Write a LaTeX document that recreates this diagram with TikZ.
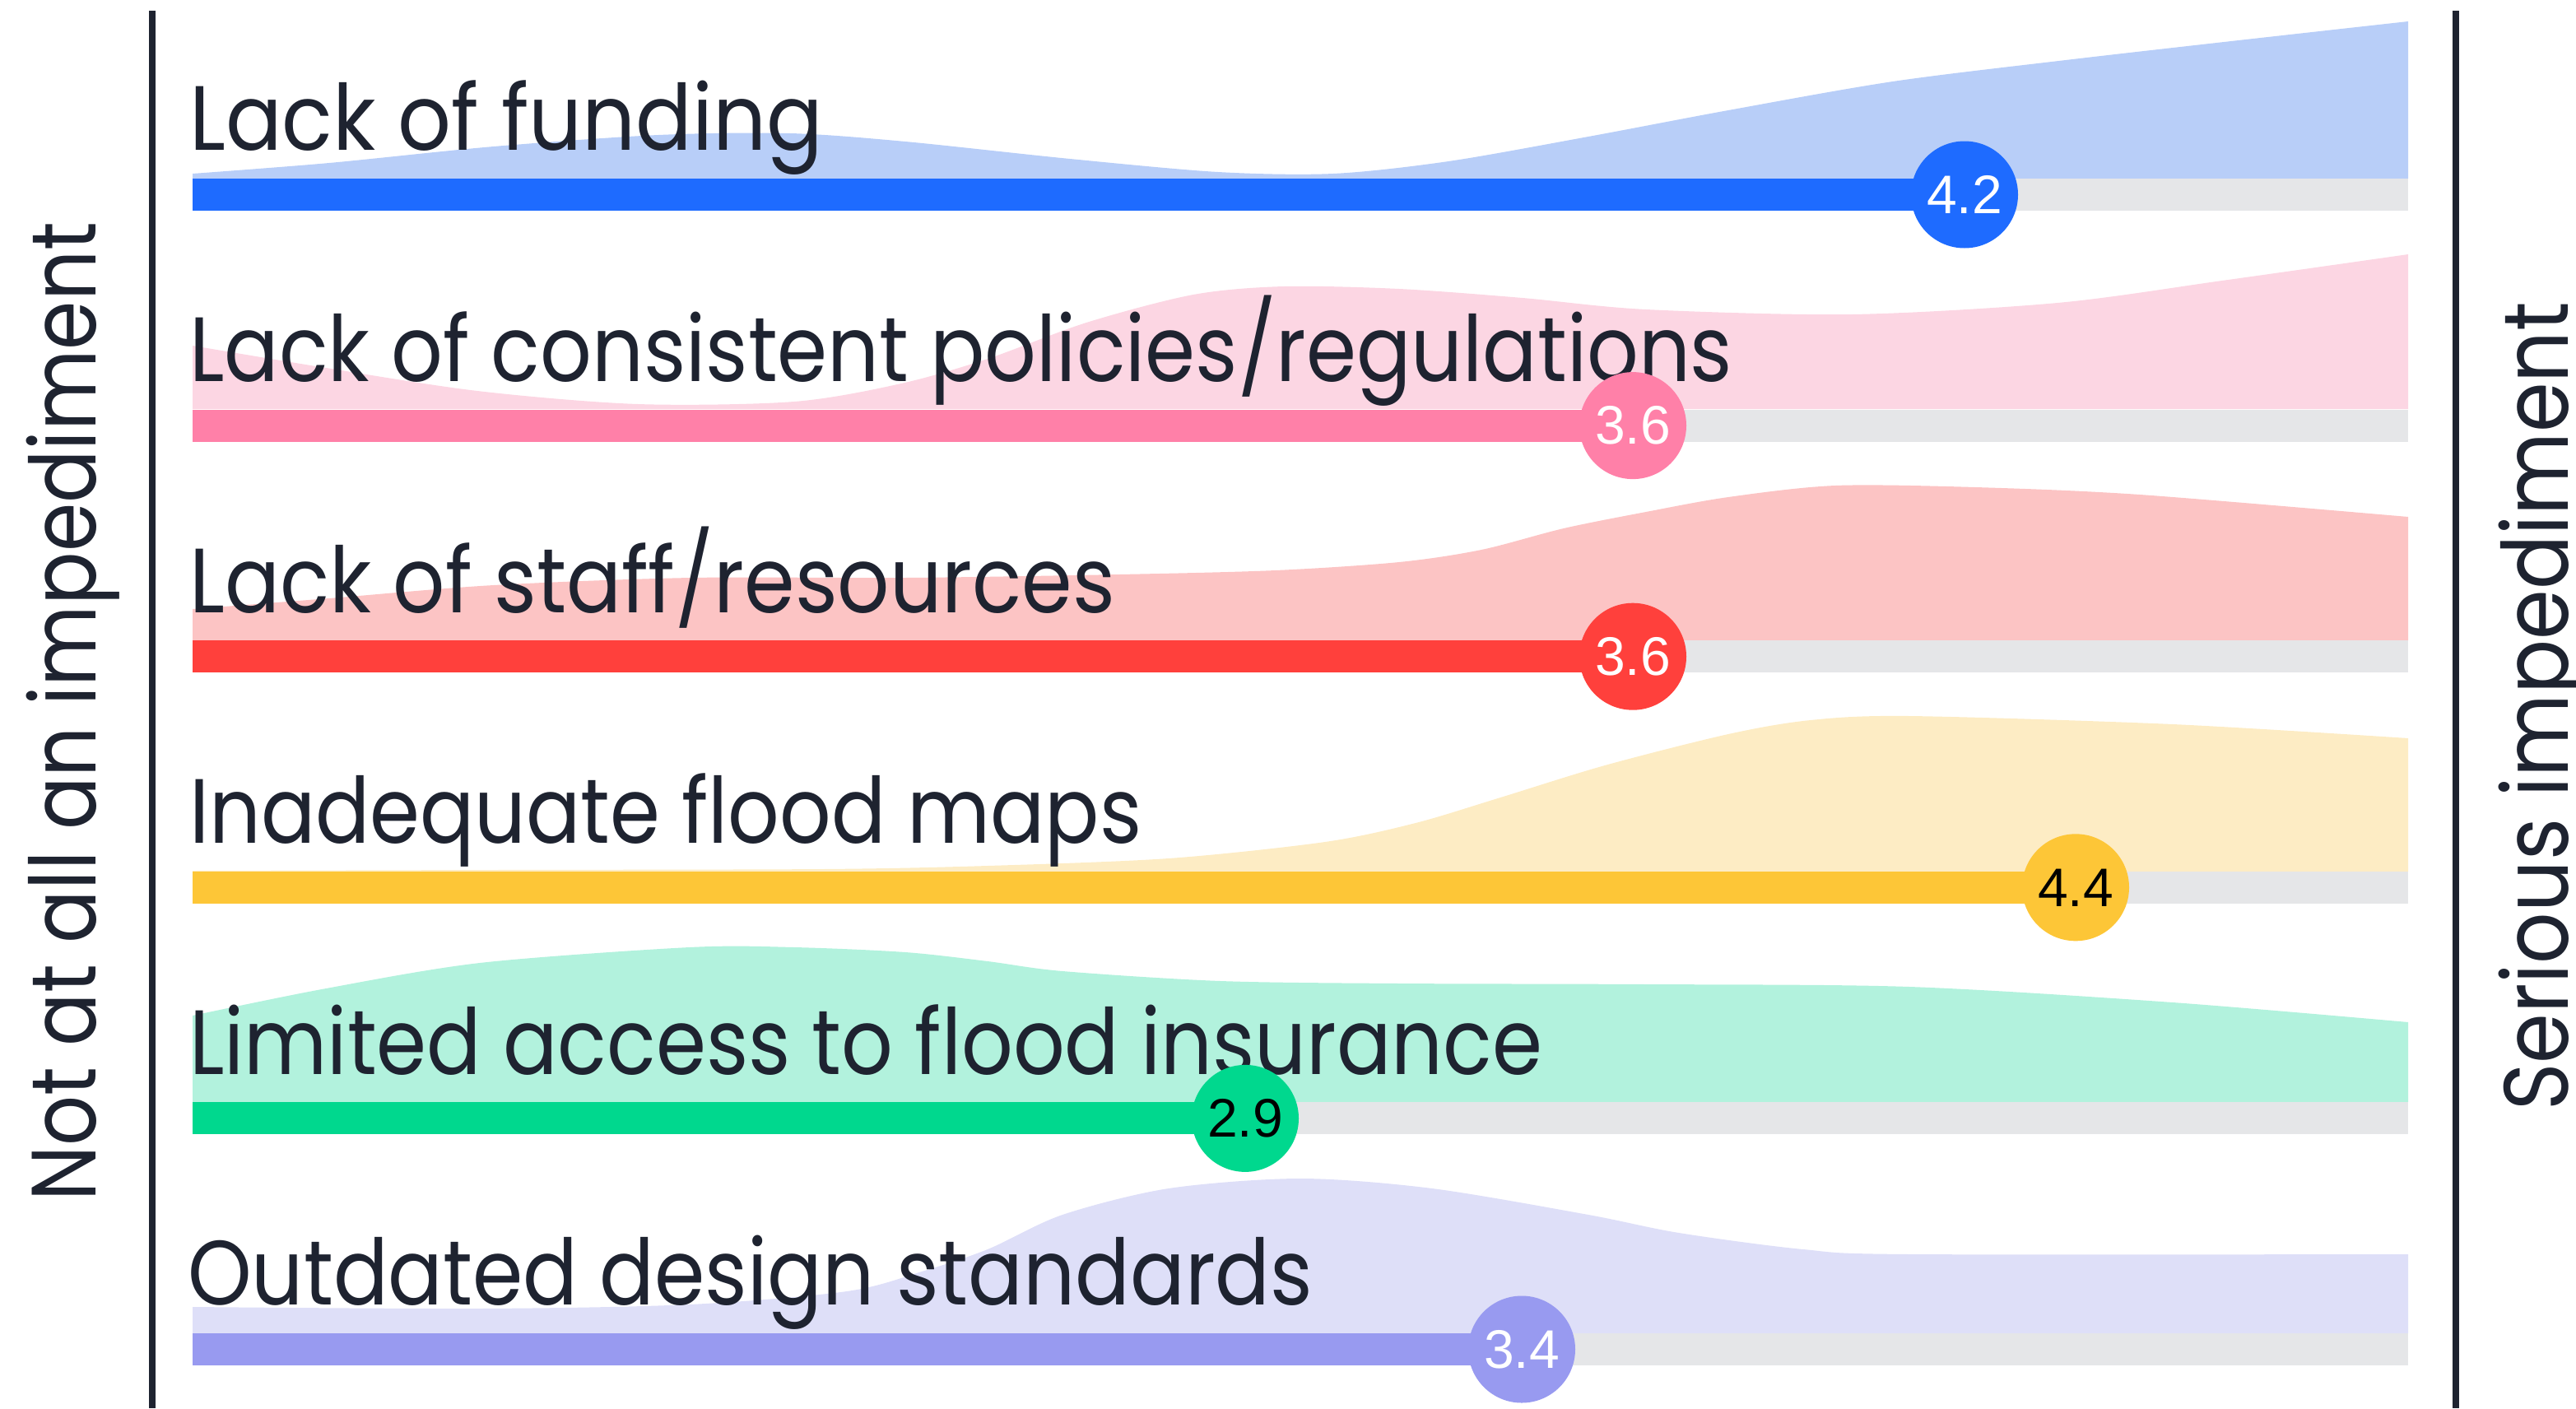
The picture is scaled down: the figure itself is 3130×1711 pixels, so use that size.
\documentclass[tikz,border=0pt]{standalone}
\usepackage{fontspec}
\usepackage{graphicx}
\setmainfont{Poppins}
\newfontfamily\valfont{Liberation Sans}
\definecolor{ink}{RGB}{30,35,48}
\definecolor{trackc}{RGB}{229,230,232}
\definecolor{cA}{RGB}{30,107,255}
\definecolor{lA}{RGB}{184,206,248}
\definecolor{cB}{RGB}{255,128,168}
\definecolor{lB}{RGB}{252,214,227}
\definecolor{cC}{RGB}{255,64,60}
\definecolor{lC}{RGB}{252,196,196}
\definecolor{cD}{RGB}{253,198,55}
\definecolor{lD}{RGB}{253,236,196}
\definecolor{cE}{RGB}{0,216,142}
\definecolor{lE}{RGB}{178,242,221}
\definecolor{cF}{RGB}{152,154,240}
\definecolor{lF}{RGB}{222,223,248}
\tikzset{
  lbl/.style={anchor=base west, inner sep=0pt, text=ink, font=\fontsize{111}{120}\selectfont},
  sidelbl/.style={anchor=base west, inner sep=0pt, text=ink, rotate=90, font=\fontsize{111}{120}\selectfont},
  val/.style={circle, minimum size=130pt, inner sep=0pt, font=\valfont\fontsize{66}{66}\selectfont},
  axisline/.style={draw=ink, line width=8pt},
  bar/.style={line width=39pt},
}
\begin{document}
\begin{tikzpicture}[x=1pt,y=-1pt]
\useasboundingbox (0,0) rectangle (3130,1711);
% ridges
\fill[lA] (234,217) -- plot[smooth] coordinates {(234,211) (400,198) (600,178) (800,164) (960,162) (1100,172) (1300,193) (1480,209) (1620,211) (1760,196) (1930,166) (2100,134) (2300,99) (2510,73) (2720,49) (2926,26)} -- (2926,217) -- cycle;
\fill[lB] (234,497) -- plot[smooth] coordinates {(234,420) (390,446) (580,475) (775,491) (965,488) (1095,466) (1200,436) (1320,392) (1450,358) (1560,348) (1700,351) (1850,362) (2000,376) (2250,382) (2500,368) (2700,341) (2926,309)} -- (2926,497) -- cycle;
\fill[lC] (234,778) -- plot[smooth] coordinates {(234,740) (400,727) (600,711) (840,702) (1100,702) (1360,698) (1550,693) (1700,683) (1800,668) (1900,642) (2000,622) (2100,604) (2230,590) (2400,592) (2600,601) (2926,628)} -- (2926,778) -- cycle;
\fill[lD] (234,1059) -- plot[smooth] coordinates {(234,1058) (600,1057) (1000,1056) (1200,1052) (1420,1043) (1610,1023) (1720,1000) (1820,970) (1950,930) (2100,892) (2200,875) (2320,870) (2640,880) (2926,897)} -- (2926,1059) -- cycle;
\fill[lE] (234,1339) -- plot[smooth] coordinates {(234,1234) (391,1202) (583,1170) (838,1151) (965,1151) (1100,1157) (1200,1168) (1291,1180) (1483,1192) (1700,1195) (2000,1196) (2320,1199) (2640,1218) (2926,1242)} -- (2926,1339) -- cycle;
\fill[lF] (234,1620) -- plot[smooth] coordinates {(234,1588) (583,1590) (838,1585) (1029,1569) (1120,1545) (1200,1518) (1291,1476) (1420,1444) (1580,1432) (1740,1444) (1930,1476) (2040,1498) (2191,1518) (2320,1524) (2926,1524)} -- (2926,1620) -- cycle;
% axes
\coordinate (axLt) at (185,13);   \coordinate (axLb) at (185,1711);
\coordinate (axRt) at (2984,13);  \coordinate (axRb) at (2984,1711);
\draw[axisline] (axLt) -- (axLb);
\draw[axisline] (axRt) -- (axRb);
% labels
\node[lbl] (t1) at (230,182) {\resizebox{770pt}{\height}{Lack of funding}};
\node[lbl] (t2) at (230,463) {\resizebox{1875pt}{\height}{Lack of consistent policies/regulations}};
\node[lbl] (t3) at (230,744) {\resizebox{1125pt}{\height}{Lack of staff/resources}};
\node[lbl] (t4) at (230,1024) {\resizebox{1157pt}{\height}{Inadequate flood maps}};
\node[lbl] (t5) at (230,1305) {\resizebox{1644pt}{\height}{Limited access to flood insurance}};
\node[lbl] (t6) at (228,1585) {\resizebox{1367pt}{\height}{Outdated design standards}};
\node[sidelbl] (yl) at (116,1460) {\resizebox{1190pt}{\height}{Not at all an impediment}};
\node[sidelbl] (yr) at (3120,1350) {\resizebox{983pt}{\height}{Serious impediment}};
% bar geometry
\coordinate (s1) at (234,236.5);  \coordinate (e1) at (2926,236.5);  \coordinate (c1) at (2387,236.5);
\coordinate (s2) at (234,517.1);  \coordinate (e2) at (2926,517.1);  \coordinate (c2) at (1984,517.1);
\coordinate (s3) at (234,797.7);  \coordinate (e3) at (2926,797.7);  \coordinate (c3) at (1984,797.7);
\coordinate (s4) at (234,1078.3); \coordinate (e4) at (2926,1078.3); \coordinate (c4) at (2522,1078.3);
\coordinate (s5) at (234,1358.9); \coordinate (e5) at (2926,1358.9); \coordinate (c5) at (1513,1358.9);
\coordinate (s6) at (234,1639.5); \coordinate (e6) at (2926,1639.5); \coordinate (c6) at (1849,1639.5);
\foreach \i/\c in {1/cA,2/cB,3/cC,4/cD,5/cE,6/cF}{
  \draw[bar, trackc] (s\i) -- (e\i);
  \draw[bar, \c] (s\i) -- (c\i);
}
% value markers
\node[val, fill=cA, text=white] (v1) at (c1) {4.2};
\node[val, fill=cB, text=white] (v2) at (c2) {3.6};
\node[val, fill=cC, text=white] (v3) at (c3) {3.6};
\node[val, fill=cD, text=black] (v4) at (c4) {4.4};
\node[val, fill=cE, text=black] (v5) at (c5) {2.9};
\node[val, fill=cF, text=white] (v6) at (c6) {3.4};
\end{tikzpicture}
\end{document}
